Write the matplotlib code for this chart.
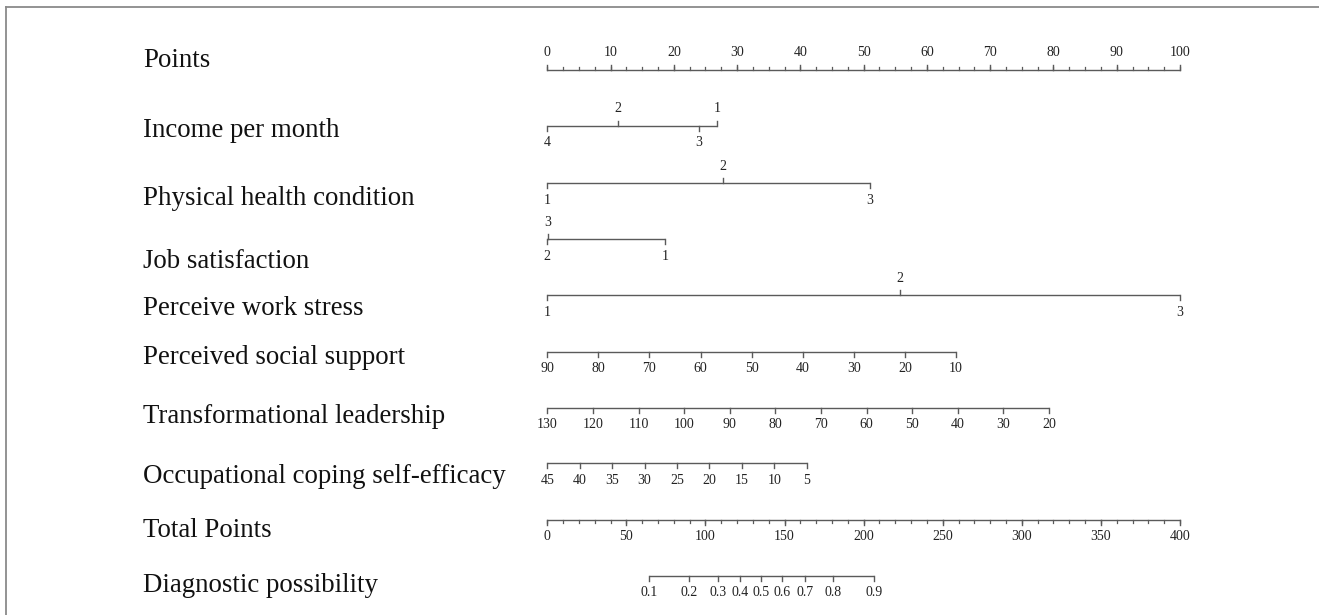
import numpy as np
import matplotlib
matplotlib.use("Agg")
import matplotlib.pyplot as plt
from matplotlib.lines import Line2D

# ---- data (positions on the 0-100 "Points" scale) ----
points_ticks = list(range(0, 101, 10))

income_labels = ["4", "2", "3", "1"]
income_points = [0.0, 11.1, 24.0, 26.8]

health_labels = ["1", "2", "3"]
health_points = [0.0, 27.8, 51.0]

job_labels = ["2", "3", "1"]
job_points = [0.0, 0.1, 18.6]

stress_labels = ["1", "2", "3"]
stress_points = [0.0, 55.7, 100.0]

social_values = [90, 80, 70, 60, 50, 40, 30, 20, 10]
social_max_points = 64.6            # points at value 10

leader_values = [130, 120, 110, 100, 90, 80, 70, 60, 50, 40, 30, 20]
leader_max_points = 79.3            # points at value 20

coping_values = [45, 40, 35, 30, 25, 20, 15, 10, 5]
coping_max_points = 41.0            # points at value 5

total_ticks = list(range(0, 401, 50))
total_max = 400

prob_labels = ["0.1", "0.2", "0.3", "0.4", "0.5", "0.6", "0.7", "0.8", "0.9"]
prob_total = [64.3, 89.8, 108.1, 121.8, 135.1, 148.2, 162.9, 180.4, 206.5]

row_names = ["Points", "Income per month", "Physical health condition",
             "Job satisfaction", "Perceive work stress",
             "Perceived social support", "Transformational leadership",
             "Occupational coping self-efficacy", "Total Points",
             "Diagnostic possibility"]

# ---- layout (pixel rows of the 1319x615 canvas) ----
W, H = 1319, 615
X0, PX = 547.3, 6.327              # pixel of 0 points, pixels per point
name_base = [67, 137, 205, 268, 315, 364, 423, 483, 537, 592]
line_y = [70, 126, 183, 239, 295, 352, 408, 463, 520, 576]

LC = "#5a5a5a"
TC = "#222222"
SERIF = ["Liberation Serif", "DejaVu Serif"]

fig = plt.figure(figsize=(W / 100, H / 100), dpi=100)
ax = fig.add_axes([0, 0, 1, 1])
ax.set_xlim(-X0 / PX, (W - X0) / PX)
ax.set_ylim(H, 0)
ax.axis("off")


def scale(y, pts, labels, sides, minor=None, major_len=5, minor_len=3):
    pts = np.asarray(pts, dtype=float)
    ax.plot([pts.min(), pts.max()], [y, y], color=LC, lw=1.0,
            solid_capstyle="butt")
    for p, lab, s in zip(pts, labels, sides):
        d = -1 if s == "up" else 1
        ax.plot([p, p], [y, y + d * major_len], color=LC, lw=1.0)
        ax.text(p, y + d * 17, lab, ha="center", va="center", fontsize=10,
                family=SERIF, color=TC)
    if minor is not None:
        d = -1 if sides[0] == "up" else 1
        for p in minor:
            ax.plot([p, p], [y, y + d * minor_len], color=LC, lw=0.9)


# Points
scale(line_y[0], points_ticks, [str(v) for v in points_ticks],
      ["up"] * len(points_ticks), minor=np.arange(0, 100.1, 2.5))
# Categorical rows
scale(line_y[1], income_points, income_labels, ["down", "up", "down", "up"])
scale(line_y[2], health_points, health_labels, ["down", "up", "down"])
scale(line_y[3], job_points, job_labels, ["down", "up", "down"])
scale(line_y[4], stress_points, stress_labels, ["down", "up", "down"])
# Continuous rows
for y, vals, mx in [(line_y[5], social_values, social_max_points),
                    (line_y[6], leader_values, leader_max_points),
                    (line_y[7], coping_values, coping_max_points)]:
    pts = np.interp(vals, [min(vals), max(vals)], [mx, 0.0])
    scale(y, pts, [str(v) for v in vals], ["down"] * len(vals))
# Total points (0-400 mapped onto 0-100)
tp = np.asarray(total_ticks) * 100.0 / total_max
scale(line_y[8], tp, [str(v) for v in total_ticks], ["down"] * len(tp),
      minor=np.arange(0, total_max + 1, 10) * 100.0 / total_max)
# Diagnostic possibility
pp_ = np.asarray(prob_total) * 100.0 / total_max
scale(line_y[9], pp_, prob_labels, ["down"] * len(pp_))

# Row names
for name, yb in zip(row_names, name_base):
    ax.text(143 / PX - X0 / PX, yb, name, ha="left", va="baseline",
            fontsize=19.4, family=SERIF, color="#111111")

# Frame lines (top and left only)
fig.add_artist(Line2D([6 / W, 1], [1 - 7 / H, 1 - 7 / H],
                      transform=fig.transFigure, color="#8a8a8a", lw=1.3))
fig.add_artist(Line2D([6 / W, 6 / W], [0, 1 - 7 / H],
                      transform=fig.transFigure, color="#8a8a8a", lw=1.3))

fig.savefig("out.png", dpi=100)
